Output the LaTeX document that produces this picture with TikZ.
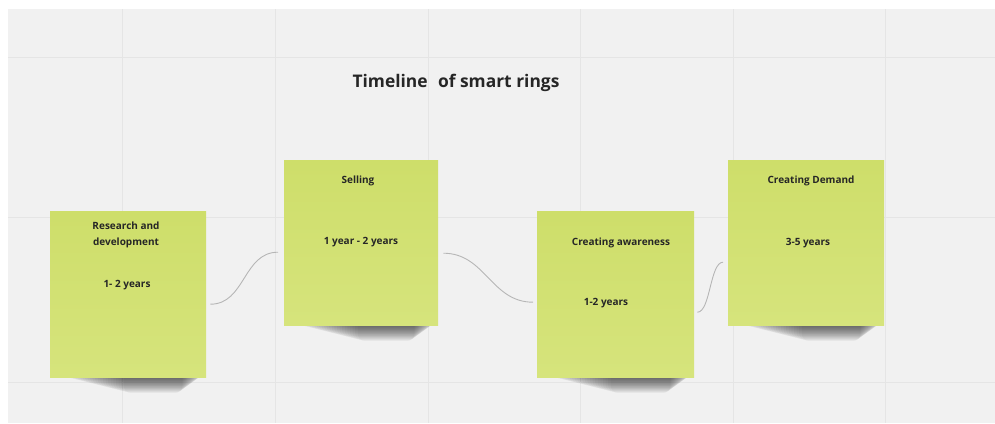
\documentclass[tikz,border=0pt]{standalone}
\usepackage{fontspec}
\setmainfont{Open Sans}
\usetikzlibrary{calc}
\definecolor{bgc}{RGB}{241,241,241}
\definecolor{gridc}{RGB}{229,229,229}
\definecolor{notec}{RGB}{206,222,106}
\definecolor{notecb}{RGB}{214,228,124}
\definecolor{txtc}{RGB}{38,38,38}
\definecolor{linkc}{RGB}{182,182,182}
\newcommand{\notesh}[3]{%
  \foreach \i in {0,...,23}{%
    \fill[black, opacity=0.032, rounded corners=7]
      ({#1+14+2.6*\i},{#3-10}) rectangle ({#2-3-0.9*\i},{#3+1+0.65*\i});
  }%
}
\begin{document}
\begin{tikzpicture}[x=1pt,y=-1pt,
  note/.style={draw=none, top color=notec, bottom color=notecb, inner sep=0pt, anchor=north west},
  lbl/.style={font=\bfseries\fontsize{10}{16}\selectfont, text=txtc, align=center, inner sep=0pt},
  ttl/.style={font=\bfseries\fontsize{17.4}{22}\selectfont, text=txtc, inner sep=0pt},
  link/.style={draw=linkc, line width=0.9pt},
  gridline/.style={draw=gridc, line width=1pt}
]
\useasboundingbox (0,0) rectangle (995,423);
\fill[white] (0,0) rectangle (995,423);
\fill[bgc] (8,9) rectangle (995,423);
% grid
\foreach \gx in {122,275,428,580,733,885}{\draw[gridline] (\gx,9) -- (\gx,423);}
\foreach \gy in {57,217,382}{\draw[gridline] (8,\gy) -- (995,\gy);}
% shadows
\notesh{50}{206}{377}
\notesh{284}{438}{325}
\notesh{537}{694}{377}
\notesh{728}{884}{325}
% notes
\node[note, minimum width=156, minimum height=166] (rd) at (50,211) {};
\node[note, minimum width=154, minimum height=165] (sell) at (284,160) {};
\node[note, minimum width=157, minimum height=166] (aw) at (537,211) {};
\node[note, minimum width=156, minimum height=165] (cd) at (728,160) {};
% title
\node[ttl] (title) at (456,83) {Timeline\hspace{0.6em}of smart rings};
% labels
\node[lbl] (rdt) at (126,235) {Research and\\development};
\node[lbl] (rdy) at (127,285) {1- 2 years};
\node[lbl] (sellt) at (358,181) {Selling};
\node[lbl] (selly) at (361,242) {1 year - 2 years};
\node[lbl] (awt) at (621,243) {Creating awareness};
\node[lbl] (awy) at (606,303) {1-2 years};
\node[lbl] (cdt) at (811,181) {Creating Demand};
\node[lbl] (cdy) at (808,243) {3-5 years};
% connectors
\draw[link] ([xshift=4pt,yshift=-10pt]rd.east) .. controls +(35,0) and +(-35,0) .. ([xshift=-6pt,yshift=-9.5pt]sell.west);
\draw[link] ([xshift=5pt,yshift=-10.5pt]sell.east) .. controls +(42,0) and +(-42,0) .. ([xshift=-4pt,yshift=-8pt]aw.west);
\draw[link] ([xshift=3pt,yshift=-18pt]aw.east) .. controls +(13,0) and +(-13,0) .. ([xshift=-5pt,yshift=-19.5pt]cd.west);
\end{tikzpicture}
\end{document}
